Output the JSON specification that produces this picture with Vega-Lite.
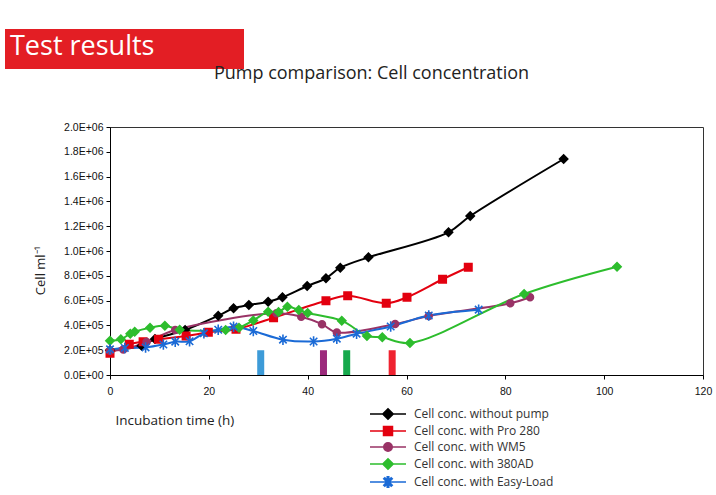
{
  "$schema": "https://vega.github.io/schema/vega-lite/v6.json",
  "width": 593,
  "height": 248,
  "autosize": {"type": "none"},
  "padding": {"left": 110, "top": 127, "right": 13, "bottom": 120},
  "background": "white",
  "title": {"text": "Pump comparison: Cell concentration", "font": "Open Sans", "fontSize": 18, "fontWeight": "normal", "color": "#222222", "anchor": "middle", "frame": "group", "dx": -35, "offset": -54},
  "config": {
    "view": {"stroke": "#333333", "strokeWidth": 1},
    "axis": {"domainColor": "#000000", "tickColor": "#000000", "labelFont": "Liberation Sans", "labelFontSize": 10.5, "labelColor": "#111111", "titleFont": "Open Sans", "titleFontWeight": "normal", "titleColor": "#222222", "grid": false, "tickSize": 4, "labelOverlap": false}
  },
  "datasets": {
    "series": [
      {"series": "Cell conc. without pump", "time": 0, "cells": 200000},
      {"series": "Cell conc. without pump", "time": 6.4, "cells": 236000},
      {"series": "Cell conc. without pump", "time": 9.1, "cells": 290000},
      {"series": "Cell conc. without pump", "time": 15.2, "cells": 363000},
      {"series": "Cell conc. without pump", "time": 21.9, "cells": 478000},
      {"series": "Cell conc. without pump", "time": 25.0, "cells": 538000},
      {"series": "Cell conc. without pump", "time": 28.1, "cells": 565000},
      {"series": "Cell conc. without pump", "time": 32.0, "cells": 591000},
      {"series": "Cell conc. without pump", "time": 34.9, "cells": 627000},
      {"series": "Cell conc. without pump", "time": 39.9, "cells": 718000},
      {"series": "Cell conc. without pump", "time": 43.7, "cells": 780000},
      {"series": "Cell conc. without pump", "time": 46.6, "cells": 865000},
      {"series": "Cell conc. without pump", "time": 52.3, "cells": 949000},
      {"series": "Cell conc. without pump", "time": 68.5, "cells": 1151000},
      {"series": "Cell conc. without pump", "time": 72.9, "cells": 1282000},
      {"series": "Cell conc. without pump", "time": 91.8, "cells": 1742000},
      {"series": "Cell conc. with Pro 280", "time": 0, "cells": 175000},
      {"series": "Cell conc. with Pro 280", "time": 3.9, "cells": 248000},
      {"series": "Cell conc. with Pro 280", "time": 6.7, "cells": 269000},
      {"series": "Cell conc. with Pro 280", "time": 9.8, "cells": 289000},
      {"series": "Cell conc. with Pro 280", "time": 15.4, "cells": 315000},
      {"series": "Cell conc. with Pro 280", "time": 19.9, "cells": 344000},
      {"series": "Cell conc. with Pro 280", "time": 25.5, "cells": 369000},
      {"series": "Cell conc. with Pro 280", "time": 33.1, "cells": 462000},
      {"series": "Cell conc. with Pro 280", "time": 43.7, "cells": 599000},
      {"series": "Cell conc. with Pro 280", "time": 48.1, "cells": 639000},
      {"series": "Cell conc. with Pro 280", "time": 55.9, "cells": 578000},
      {"series": "Cell conc. with Pro 280", "time": 60.1, "cells": 627000},
      {"series": "Cell conc. with Pro 280", "time": 67.3, "cells": 772000},
      {"series": "Cell conc. with Pro 280", "time": 72.5, "cells": 869000},
      {"series": "Cell conc. with WM5", "time": 0, "cells": 195000},
      {"series": "Cell conc. with WM5", "time": 2.7, "cells": 205000},
      {"series": "Cell conc. with WM5", "time": 7.4, "cells": 266000},
      {"series": "Cell conc. with WM5", "time": 13.2, "cells": 363000},
      {"series": "Cell conc. with WM5", "time": 33.7, "cells": 498000},
      {"series": "Cell conc. with WM5", "time": 38.7, "cells": 470000},
      {"series": "Cell conc. with WM5", "time": 42.9, "cells": 410000},
      {"series": "Cell conc. with WM5", "time": 45.9, "cells": 343000},
      {"series": "Cell conc. with WM5", "time": 57.7, "cells": 411000},
      {"series": "Cell conc. with WM5", "time": 64.5, "cells": 476000},
      {"series": "Cell conc. with WM5", "time": 81.0, "cells": 578000},
      {"series": "Cell conc. with WM5", "time": 85.0, "cells": 627000},
      {"series": "Cell conc. with 380AD", "time": 0, "cells": 277000},
      {"series": "Cell conc. with 380AD", "time": 2.2, "cells": 288000},
      {"series": "Cell conc. with 380AD", "time": 4.1, "cells": 333000},
      {"series": "Cell conc. with 380AD", "time": 5.0, "cells": 349000},
      {"series": "Cell conc. with 380AD", "time": 8.1, "cells": 381000},
      {"series": "Cell conc. with 380AD", "time": 11.1, "cells": 397000},
      {"series": "Cell conc. with 380AD", "time": 14.1, "cells": 365000},
      {"series": "Cell conc. with 380AD", "time": 23.4, "cells": 363000},
      {"series": "Cell conc. with 380AD", "time": 26.1, "cells": 381000},
      {"series": "Cell conc. with 380AD", "time": 29.0, "cells": 440000},
      {"series": "Cell conc. with 380AD", "time": 32.0, "cells": 510000},
      {"series": "Cell conc. with 380AD", "time": 34.1, "cells": 508000},
      {"series": "Cell conc. with 380AD", "time": 35.9, "cells": 551000},
      {"series": "Cell conc. with 380AD", "time": 38.2, "cells": 524000},
      {"series": "Cell conc. with 380AD", "time": 40.0, "cells": 500000},
      {"series": "Cell conc. with 380AD", "time": 46.9, "cells": 438000},
      {"series": "Cell conc. with 380AD", "time": 52.0, "cells": 315000},
      {"series": "Cell conc. with 380AD", "time": 55.1, "cells": 304000},
      {"series": "Cell conc. with 380AD", "time": 60.7, "cells": 258000},
      {"series": "Cell conc. with 380AD", "time": 83.8, "cells": 653000},
      {"series": "Cell conc. with 380AD", "time": 102.6, "cells": 873000},
      {"series": "Cell conc. with Easy-Load", "time": 0, "cells": 207000},
      {"series": "Cell conc. with Easy-Load", "time": 3.0, "cells": 218000},
      {"series": "Cell conc. with Easy-Load", "time": 7.2, "cells": 222000},
      {"series": "Cell conc. with Easy-Load", "time": 10.8, "cells": 246000},
      {"series": "Cell conc. with Easy-Load", "time": 13.2, "cells": 269000},
      {"series": "Cell conc. with Easy-Load", "time": 16.1, "cells": 272000},
      {"series": "Cell conc. with Easy-Load", "time": 19.0, "cells": 336000},
      {"series": "Cell conc. with Easy-Load", "time": 21.9, "cells": 365000},
      {"series": "Cell conc. with Easy-Load", "time": 25.0, "cells": 390000},
      {"series": "Cell conc. with Easy-Load", "time": 29.0, "cells": 355000},
      {"series": "Cell conc. with Easy-Load", "time": 35.0, "cells": 285000},
      {"series": "Cell conc. with Easy-Load", "time": 41.2, "cells": 270000},
      {"series": "Cell conc. with Easy-Load", "time": 45.9, "cells": 293000},
      {"series": "Cell conc. with Easy-Load", "time": 49.9, "cells": 333000},
      {"series": "Cell conc. with Easy-Load", "time": 56.8, "cells": 391000},
      {"series": "Cell conc. with Easy-Load", "time": 64.5, "cells": 480000},
      {"series": "Cell conc. with Easy-Load", "time": 74.6, "cells": 527000}
    ],
    "pumps": [
      {"pump": "Easy-Load", "time": 30.5, "bottom": 0, "top": 200000, "event": "pump added"},
      {"pump": "WM5", "time": 43.2, "bottom": 0, "top": 200000, "event": "pump added"},
      {"pump": "380AD", "time": 47.9, "bottom": 0, "top": 200000, "event": "pump added"},
      {"pump": "Pro 280", "time": 57.1, "bottom": 0, "top": 200000, "event": "pump added"}
    ]
  },
  "layer": [
    {
      "data": {"name": "pumps"},
      "mark": {"type": "rule", "strokeWidth": 7, "strokeCap": "butt"},
      "encoding": {
        "x": {"field": "time", "type": "quantitative", "scale": {"domain": [0, 120], "nice": false},
          "axis": {"values": [0, 20, 40, 60, 80, 100, 120], "title": "Incubation time (h)", "titleAnchor": "start", "titleAlign": "left", "titleX": 5, "titleY": 45, "titleBaseline": "middle", "titleFontSize": 13.5, "labelPadding": 7, "labelFlush": false, "labelOverlap": false}},
        "y": {"field": "bottom", "type": "quantitative", "scale": {"domain": [0, 2000000], "nice": false},
          "axis": {"values": [0, 200000, 400000, 600000, 800000, 1000000, 1200000, 1400000, 1600000, 1800000, 2000000], "tickCount": 11, "labelOverlap": false, "title": "Cell ml⁻¹", "titleX": -70, "titleY": 143, "titleAngle": -90, "titleAlign": "center", "titleBaseline": "middle", "titleFontSize": 13, "labelPadding": 3,
            "labelExpr": "datum.value == 0 ? '0.0E+00' : format(datum.value / pow(10, floor(log(datum.value) / LN10 + 1e-9)), '.1f') + 'E+0' + floor(log(datum.value) / LN10 + 1e-9)"}},
        "y2": {"field": "top"},
        "stroke": {"field": "pump", "type": "nominal", "scale": {"domain": ["Easy-Load", "WM5", "380AD", "Pro 280"], "range": ["#3d9bd8", "#9c2a7c", "#16a94c", "#ef2330"]}, "legend": null},
        "strokeDash": {"field": "event", "type": "nominal", "scale": {"range": [[1, 0]]},
          "legend": {"title": "Test results", "orient": "none", "legendX": -105, "legendY": -98, "direction": "horizontal", "titleOrient": "top", "fillColor": "#e31e24", "padding": 5, "titleColor": "white", "titleFont": "Open Sans", "titleFontSize": 27, "titleFontWeight": "normal", "titlePadding": 1, "symbolType": "M0,-0.5H228V0.5H0Z", "symbolSize": 4, "symbolOpacity": 0, "symbolStrokeWidth": 0, "labelExpr": "''", "labelFontSize": 1}}
      }
    },
    {
      "data": {"name": "series"},
      "mark": {"type": "line", "interpolate": "catmull-rom", "strokeWidth": 2},
      "encoding": {
        "x": {"field": "time", "type": "quantitative"},
        "y": {"field": "cells", "type": "quantitative"},
        "color": {"field": "series", "type": "nominal", "scale": {"domain": ["Cell conc. without pump", "Cell conc. with Pro 280", "Cell conc. with WM5", "Cell conc. with 380AD", "Cell conc. with Easy-Load"], "range": ["#000000", "#e3000f", "#993366", "#2dbd2d", "#1a6ad6"]}}
      }
    },
    {
      "data": {"name": "series"},
      "mark": {"type": "point", "filled": true, "opacity": 1, "size": 100},
      "encoding": {
        "x": {"field": "time", "type": "quantitative"},
        "y": {"field": "cells", "type": "quantitative"},
        "color": {"field": "series", "type": "nominal",
          "legend": {"title": null, "orient": "none", "legendX": 272, "legendY": 281, "symbolSize": 100, "labelFont": "Open Sans", "labelFontSize": 12, "labelColor": "#333333", "labelOffset": 20, "rowPadding": 0, "padding": 0,
            "encode": {"symbols": {"update": {"stroke": {"scale": "color", "field": "value"}, "strokeWidth": {"value": 2}}}}}},
        "shape": {"field": "series", "type": "nominal", "scale": {"domain": ["Cell conc. without pump", "Cell conc. with Pro 280", "Cell conc. with WM5", "Cell conc. with 380AD", "Cell conc. with Easy-Load"],
          "range": [
            "M-3.6,0H3.6M0,-1.05L1.05,0L0,1.05L-1.05,0Z",
            "M-3.6,0H3.6M-0.9,-0.9H0.9V0.9H-0.9Z",
            "M-3.6,0H3.6M-0.85,0A0.85,0.85,0,1,1,0.85,0A0.85,0.85,0,1,1,-0.85,0Z",
            "M-3.6,0H3.6M0,-1.05L1.05,0L0,1.05L-1.05,0Z",
            "M-3.6,0H3.6M-0.16,-1.05H0.16V1.05H-0.16ZM-0.63,-0.856L0.856,0.63L0.63,0.856L-0.856,-0.63ZM-0.63,0.856L-0.856,0.63L0.63,-0.856L0.856,-0.63Z"
          ]}}
      }
    }
  ]
}
